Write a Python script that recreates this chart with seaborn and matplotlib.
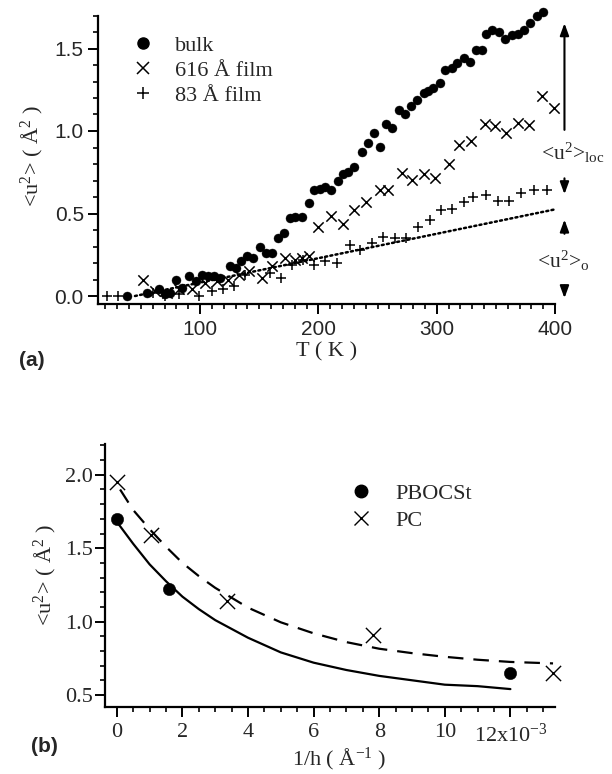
import numpy as np
import pandas as pd
import matplotlib
matplotlib.use("Agg")
import matplotlib.pyplot as plt
from matplotlib.lines import Line2D
from matplotlib.ticker import MultipleLocator, FixedLocator
import seaborn as sns

# ---------------- data (panel a) ----------------
bulk_T = [38, 55, 65, 70, 75, 80, 85, 91, 97, 102, 107, 112, 117, 125, 130,
          135, 140, 145, 151, 156, 161, 166, 171, 176, 180, 186, 192, 196, 201, 206,
          211, 217, 221, 225, 230, 237, 242, 247, 252, 257, 262, 268, 273, 278, 283,
          289, 293, 297, 303, 307, 313, 317, 323, 328, 333, 338, 342, 347, 353, 358,
          364, 369, 374, 379, 385, 390]
bulk_u = [0.00, 0.02, 0.04, 0.01, 0.02, 0.10, 0.05, 0.12, 0.09, 0.13, 0.12, 0.12, 0.11, 0.18, 0.17,
          0.21, 0.24, 0.23, 0.30, 0.26, 0.26, 0.35, 0.38, 0.47, 0.48, 0.48, 0.565, 0.64, 0.65, 0.66,
          0.64, 0.70, 0.74, 0.75, 0.78, 0.875, 0.925, 0.985, 0.905, 1.045, 1.02, 1.125, 1.10, 1.15, 1.19,
          1.23, 1.245, 1.26, 1.29, 1.37, 1.38, 1.41, 1.44, 1.42, 1.49, 1.49, 1.59, 1.615, 1.60, 1.56,
          1.58, 1.59, 1.615, 1.655, 1.70, 1.72]

film616_T = [52, 62, 72, 82, 93, 104, 114, 124, 133, 141, 152, 161, 172, 180, 186,
             192, 200, 211, 221, 230, 240, 252, 259, 271, 279, 289, 299, 310, 319, 329,
             341, 349, 359, 369, 378, 389, 399]
film616_u = [0.10, 0.03, 0.02, 0.04, 0.04, 0.08, 0.09, 0.10, 0.13, 0.15, 0.11, 0.18, 0.23, 0.22, 0.23,
             0.24, 0.42, 0.485, 0.435, 0.52, 0.57, 0.645, 0.645, 0.745, 0.705, 0.74, 0.715, 0.80, 0.915, 0.94,
             1.04, 1.03, 0.99, 1.05, 1.035, 1.21, 1.14]

film83_T = [21, 31, 60, 70, 82, 99, 110, 119, 129, 138, 159, 168, 178, 187, 196,
            206, 216, 227, 235, 245, 255, 265, 274, 284, 294, 304, 313, 323, 331, 342,
            352, 361, 371, 382, 393]
film83_u = [0.00, 0.00, 0.02, 0.00, 0.01, 0.00, 0.03, 0.04, 0.06, 0.13, 0.14, 0.11, 0.19, 0.22, 0.19,
            0.21, 0.20, 0.31, 0.28, 0.32, 0.36, 0.35, 0.35, 0.42, 0.46, 0.52, 0.525, 0.57, 0.60, 0.61,
            0.575, 0.575, 0.625, 0.645, 0.645]

baseline_T = [45, 400]
baseline_u = [0.0, 0.525]

labels_a = ["bulk", "616 Å film", "83 Å film"]

# ---------------- data (panel b) ----------------
pbocst_x = [0.0, 1.6, 12.0]
pbocst_u = [1.70, 1.22, 0.65]
pc_x = [0.0, 1.05, 3.35, 7.8, 13.3]
pc_u = [1.95, 1.59, 1.14, 0.91, 0.65]

fit_pbocst_x = [0, 0.5, 1, 1.5, 2, 2.5, 3, 4, 5, 6, 7, 8, 9, 10, 11, 12]
fit_pbocst_u = [1.68, 1.53, 1.39, 1.275, 1.17, 1.085, 1.01, 0.89, 0.79, 0.72, 0.67, 0.63,
                0.60, 0.57, 0.56, 0.54]
fit_pc_x = [0.1, 0.5, 1, 1.5, 2, 2.5, 3, 4, 5, 6, 7, 8, 9, 10, 11, 12, 13.3]
fit_pc_u = [1.90, 1.76, 1.63, 1.51, 1.40, 1.31, 1.23, 1.095, 0.995, 0.92, 0.86, 0.815,
            0.785, 0.76, 0.74, 0.725, 0.715]

labels_b = ["PBOCSt", "PC"]
xticks_b = [0, 2, 4, 6, 8, 10, 12]
xticklabels_b = ["0", "2", "4", "6", "8", "10", "12x10$^{-3}$"]

# ---------------- style ----------------
sns.set_theme(style="ticks")
plt.rcParams["font.family"] = ["Liberation Serif", "DejaVu Serif"]
plt.rcParams["mathtext.fontset"] = "custom"
plt.rcParams["mathtext.rm"] = "Liberation Serif"
plt.rcParams["mathtext.it"] = "Liberation Serif:italic"
plt.rcParams["mathtext.default"] = "regular"

SANS = ["Liberation Sans", "DejaVu Sans"]
SERIF = ["Liberation Serif", "DejaVu Serif"]
K = "black"

fig = plt.figure(figsize=(6.12, 7.74), dpi=100)

def style_axes(ax):
    for s in ["top", "right"]:
        ax.spines[s].set_visible(False)
    for s in ["left", "bottom"]:
        ax.spines[s].set_linewidth(1.6)
        ax.spines[s].set_color(K)
    ax.tick_params(which="major", direction="out", length=7, width=1.4, color=K)
    ax.tick_params(which="minor", direction="out", length=3.8, width=1.2, color=K)
    ax.grid(False)
    ax.set_facecolor("white")

# ================= panel (a) =================
ax1 = fig.add_axes([97.7 / 612, 1 - 304.25 / 774, (555 - 97.7) / 612, (304.25 - 7.25) / 774])
df_bulk = pd.DataFrame({"T": bulk_T, "u": bulk_u})
df_616 = pd.DataFrame({"T": film616_T, "u": film616_u})
df_83 = pd.DataFrame({"T": film83_T, "u": film83_u})
df_base = pd.DataFrame({"T": baseline_T, "u": baseline_u})

sns.lineplot(data=df_base, x="T", y="u", ax=ax1, color=K, lw=1.8,
             linestyle=(0, (0.8, 1.3)), dash_capstyle="round")
sns.scatterplot(data=df_bulk, x="T", y="u", ax=ax1, marker="o", s=42,
                color=K, edgecolor=K, linewidth=0.3, clip_on=False, zorder=3)
sns.scatterplot(data=df_616, x="T", y="u", ax=ax1, marker="x", s=55,
                color=K, linewidth=1.1, clip_on=False, zorder=3)
sns.scatterplot(data=df_83, x="T", y="u", ax=ax1, marker="+", s=55,
                color=K, linewidth=1.1, clip_on=False, zorder=3)

ax1.set_xlim(13.5, 400)
ax1.set_ylim(-0.05, 1.75)
style_axes(ax1)
ax1.spines["left"].set_bounds(-0.05, 1.70)
ax1.xaxis.set_minor_locator(MultipleLocator(10))
ax1.yaxis.set_minor_locator(FixedLocator(list(np.round(np.arange(0.0, 1.71, 0.1), 2))))
ax1.set_xticks([100, 200, 300, 400])
ax1.set_xticklabels(["100", "200", "300", "400"])
ax1.set_yticks([0.0, 0.5, 1.0, 1.5])
ax1.set_yticklabels(["0.0", "0.5", "1.0", "1.5"])
for lab in ax1.get_xticklabels() + ax1.get_yticklabels():
    lab.set_fontfamily(SANS)
    lab.set_fontsize(15)
ax1.tick_params(axis="x", pad=4)
ax1.tick_params(axis="y", pad=3)
ax1.set_xlabel("T ( K )", fontsize=16, family=SERIF, labelpad=3)
ax1.set_ylabel("<u$^2$> ( Å$^2$ )", fontsize=16, family=SERIF, labelpad=6)

h_a = [Line2D([], [], ls="none", marker="o", ms=8, color=K),
       Line2D([], [], ls="none", marker="x", ms=9, mew=1.1, color=K),
       Line2D([], [], ls="none", marker="+", ms=9, mew=1.1, color=K)]
ax1.legend(h_a, labels_a, loc="upper left", bbox_to_anchor=(0.075, 0.905),
           frameon=False, prop={"family": SERIF, "size": 16}, handlelength=1.0,
           handletextpad=0.95, labelspacing=0.2, borderpad=0, borderaxespad=0)

# right-hand annotations
arrow_kw = dict(arrowstyle="-|>,head_length=0.6,head_width=0.22", lw=1.5, color=K)
ax1.annotate("", xy=(408, 1.67), xytext=(408, 0.99), arrowprops=arrow_kw, annotation_clip=False)
ax1.annotate("", xy=(408, 0.60), xytext=(408, 0.73), arrowprops=arrow_kw, annotation_clip=False)
ax1.annotate("", xy=(408, 0.48), xytext=(408, 0.36), arrowprops=arrow_kw, annotation_clip=False)
ax1.annotate("", xy=(408, -0.03), xytext=(408, 0.08), arrowprops=arrow_kw, annotation_clip=False)
ax1.text(388, 0.87, "<u$^2$>$_{\\rm loc}$", fontsize=15.5, family=SERIF, ha="left", va="center", clip_on=False)
ax1.text(385, 0.21, "<u$^2$>$_{\\rm o}$", fontsize=15.5, family=SERIF, ha="left", va="center", clip_on=False)

fig.text(32 / 612, 1 - 361 / 774, "(a)", fontsize=15, fontweight="bold", family=SANS,
         ha="center", va="center")

# ================= panel (b) =================
ax2 = fig.add_axes([105 / 612, 1 - 706.7 / 774, 450 / 612, (706.7 - 444) / 774])
df_p = pd.DataFrame({"x": pbocst_x, "u": pbocst_u})
df_c = pd.DataFrame({"x": pc_x, "u": pc_u})
df_fp = pd.DataFrame({"x": fit_pbocst_x, "u": fit_pbocst_u})
df_fc = pd.DataFrame({"x": fit_pc_x, "u": fit_pc_u})

sns.lineplot(data=df_fp, x="x", y="u", ax=ax2, color=K, lw=1.6)
sns.lineplot(data=df_fc, x="x", y="u", ax=ax2, color=K, lw=1.6, linestyle=(0, (7, 4.5)))
sns.scatterplot(data=df_p, x="x", y="u", ax=ax2, marker="o", s=80, color=K,
                edgecolor=K, linewidth=0.3, clip_on=False, zorder=3)
sns.scatterplot(data=df_c, x="x", y="u", ax=ax2, marker="x", s=120, color=K,
                linewidth=1.0, clip_on=False, zorder=3)

ax2.set_xlim(-0.36, 13.36)
ax2.set_ylim(0.42, 2.21)
style_axes(ax2)
ax2.xaxis.set_minor_locator(MultipleLocator(0.5))
ax2.yaxis.set_minor_locator(MultipleLocator(0.1))
ax2.set_xticks(xticks_b)
ax2.set_xticklabels(xticklabels_b)
ax2.set_yticks([0.5, 1.0, 1.5, 2.0])
ax2.set_yticklabels(["0.5", "1.0", "1.5", "2.0"])
for lab in ax2.get_xticklabels() + ax2.get_yticklabels():
    lab.set_fontfamily(SERIF)
    lab.set_fontsize(16)
ax2.tick_params(axis="x", pad=5)
ax2.tick_params(axis="y", pad=2)
ax2.set_xlabel("1/h ( Å$^{-1}$ )", fontsize=16, family=SERIF)
ax2.xaxis.set_label_coords((339 - 105) / 450, -(759 - 706.7) / 262.7)
ax2.xaxis.label.set_va("center")
ax2.set_ylabel("<u$^2$> ( Å$^2$ )", fontsize=16, family=SERIF, labelpad=4)

h_b = [Line2D([], [], ls="none", marker="o", ms=9, color=K),
       Line2D([], [], ls="none", marker="x", ms=10, mew=1.0, color=K)]
ax2.legend(h_b, labels_b, loc="upper left", bbox_to_anchor=(0.544, 0.851),
           frameon=False, prop={"family": SERIF, "size": 16}, handlelength=1.0,
           handletextpad=1.05, labelspacing=0.3, borderpad=0, borderaxespad=0)

fig.text(44 / 612, 1 - 746 / 774, "(b)", fontsize=15, fontweight="bold", family=SANS,
         ha="center", va="center")

fig.savefig("out.png", dpi=100, facecolor="white")
